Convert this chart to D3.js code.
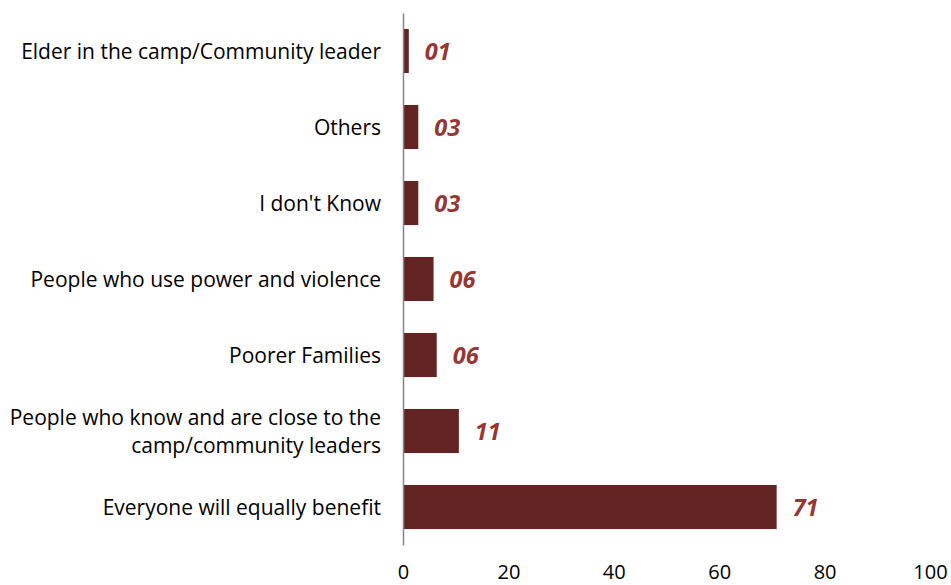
<!DOCTYPE html>
<html>
<head>
<meta charset="utf-8">
<script src="https://cdn.jsdelivr.net/npm/d3@7"></script>
<style>
  html, body { margin: 0; padding: 0; background: #fff; }
  svg { display: block; }
</style>
</head>
<body>
<svg id="chart" width="951" height="585"></svg>
<script>
// ---- data ----
const categories = [
  ["Elder in the camp/Community leader"],
  ["Others"],
  ["I don't Know"],
  ["People who use power and violence"],
  ["Poorer Families"],
  ["People who know and are close to the", "camp/community leaders"],
  ["Everyone will equally benefit"]
];
const values = [1.1, 2.9, 2.9, 5.8, 6.4, 10.6, 70.9];
const tickValues = [0, 20, 40, 60, 80, 100];

// ---- layout ----
const svg = d3.select("#chart");
const x = d3.scaleLinear().domain([0, 100]).range([403, 930]);
const y = d3.scaleBand().domain(d3.range(categories.length))
  .range([13, 545]).paddingInner(0.42).paddingOuter(0.21);

const barColor = "#632523";
const labelColor = "#953735";
const catFont = "'Open Sans', sans-serif";

// bars
svg.append("g").selectAll("rect").data(values).join("rect")
  .attr("x", x(0))
  .attr("y", (d, i) => y(i))
  .attr("width", d => x(d) - x(0))
  .attr("height", y.bandwidth())
  .attr("fill", barColor);

// value labels
const fmt = d3.format("02d");
svg.append("g").selectAll("text").data(values).join("text")
  .attr("x", d => x(d) + 16)
  .attr("y", (d, i) => y(i) + y.bandwidth() / 2 + 9)
  .attr("font-family", catFont)
  .attr("font-weight", "bold")
  .attr("font-style", "italic")
  .attr("font-size", 23.5)
  .attr("fill", labelColor)
  .text(d => fmt(Math.round(d)));

// category labels
const catSize = 21;
const lineH = 28;
const cat = svg.append("g").selectAll("text").data(categories).join("text")
  .attr("text-anchor", "end")
  .attr("font-family", catFont)
  .attr("font-size", catSize)
  .attr("fill", "#000");
cat.each(function(lines, i) {
  const cy = y(i) + y.bandwidth() / 2;
  const n = lines.length;
  d3.select(this).selectAll("tspan").data(lines).join("tspan")
    .attr("x", 381)
    .attr("y", (l, k) => cy + 7.5 + (k - (n - 1) / 2) * lineH)
    .text(l => l);
});

// y axis line (no ticks)
const yAxis = d3.axisLeft(y).tickSize(0).tickFormat("");
const ya = svg.append("g").attr("transform", `translate(${x(0)},0)`).call(yAxis);
ya.select(".domain").attr("stroke", "#868686").attr("stroke-width", 1.5);

// x axis tick labels (no line)
const xAxis = d3.axisBottom(x).tickValues(tickValues).tickSize(0).tickPadding(0);
const xa = svg.append("g").attr("transform", `translate(0,579)`).call(xAxis);
xa.select(".domain").remove();
xa.selectAll("text")
  .attr("font-family", catFont)
  .attr("font-size", 20)
  .attr("fill", "#000")
  .attr("dy", "0");
</script>
</body>
</html>
